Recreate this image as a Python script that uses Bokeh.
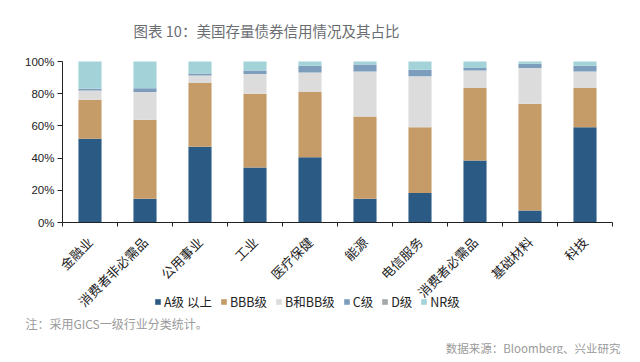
import math
from bokeh.plotting import figure
from bokeh.models import (FixedTicker, NumeralTickFormatter, Legend, LegendItem,
                          Label, ColumnDataSource, Range1d)
from bokeh.embed import file_html
from bokeh.resources import INLINE

categories = ["金融业", "消费者非必需品", "公用事业", "工业", "医疗保健",
              "能源", "电信服务", "消费者必需品", "基础材料", "科技"]
series_names = ["A级 以上", "BBB级", "B和BB级", "C级", "D级", "NR级"]
a_grade = [52.0, 14.7, 47.0, 34.2, 40.6, 14.7, 18.4, 38.5, 7.5, 59.2]
bbb_grade = [24.2, 49.1, 39.7, 45.8, 40.4, 51.1, 40.8, 45.1, 66.2, 24.4]
b_bb_grade = [5.8, 17.2, 4.6, 12.3, 12.2, 28.0, 31.7, 10.8, 22.3, 10.2]
c_grade = [1.0, 2.4, 1.2, 2.1, 4.1, 4.3, 3.9, 1.5, 2.6, 3.5]
d_grade = [0.0, 0.0, 0.0, 0.0, 0.0, 0.0, 0.0, 0.0, 0.0, 0.0]
nr_grade = [17.0, 16.6, 7.5, 5.6, 2.7, 1.9, 5.2, 4.1, 1.4, 2.7]
y_ticks = [0, 0.2, 0.4, 0.6, 0.8, 1.0]

colors = ["#2b5a85", "#c59c67", "#dcdcdc", "#7d9dbd", "#a4a8a8", "#a3d3d9"]

keys = ["a", "bbb", "bbb2", "c", "d", "nr"]
values = [a_grade, bbb_grade, b_bb_grade, c_grade, d_grade, nr_grade]
n = len(categories)
xs = [i + 0.5 for i in range(n)]
data = {"x": xs}
for k, v in zip(keys, values):
    data[k] = [val / 100.0 for val in v]
source = ColumnDataSource(data)

W, H = 632, 354
left_px, right_px = 62, 612
top_px, bottom_px = 61, 222
cat_px = (right_px - left_px) / n
unit_px = bottom_px - top_px

p = figure(width=W, height=H, output_backend="svg", toolbar_location=None,
           x_range=Range1d(-left_px / cat_px, (W - left_px) / cat_px),
           y_range=Range1d(-(H - bottom_px) / unit_px, 1 + top_px / unit_px),
           min_border=0, min_border_left=0, min_border_right=0,
           min_border_top=0, min_border_bottom=0)
p.outline_line_color = None
p.background_fill_color = "white"
p.border_fill_color = "white"
p.grid.visible = False

renderers = p.vbar_stack(keys, x="x", width=0.42, source=source, color=colors,
                         line_color=None)

# y axis
p.yaxis.fixed_location = 0
p.yaxis.bounds = (0, 1)
p.yaxis.ticker = FixedTicker(ticks=y_ticks)
p.yaxis.formatter = NumeralTickFormatter(format="0%")
p.yaxis.major_tick_in = 0
p.yaxis.major_tick_out = 5
p.yaxis.minor_tick_line_color = None
p.yaxis.axis_line_color = "#222222"
p.yaxis.major_tick_line_color = "#222222"
p.yaxis.major_label_text_font = "Liberation Sans"
p.yaxis.major_label_text_font_size = "11.5px"
p.yaxis.major_label_text_color = "#222222"
p.yaxis.major_label_standoff = 3

# x axis: labels at centres, tick marks at boundaries
p.xaxis.fixed_location = 0
p.xaxis.bounds = (0, n)
p.xaxis.ticker = FixedTicker(ticks=xs, minor_ticks=list(range(n + 1)))
p.xaxis.major_label_overrides = {x: c for x, c in zip(xs, categories)}
p.xaxis.major_tick_in = 0
p.xaxis.major_tick_out = 0
p.xaxis.minor_tick_in = 0
p.xaxis.minor_tick_out = 4
p.xaxis.minor_tick_line_color = "#222222"
p.xaxis.axis_line_color = "#222222"
p.xaxis.major_label_orientation = math.pi / 4
p.xaxis.major_label_text_font = "Noto Sans CJK SC"
p.xaxis.major_label_text_font_size = "13px"
p.xaxis.major_label_text_color = "#222222"
p.xaxis.major_label_standoff = 13

legend = Legend(items=[LegendItem(label=s, renderers=[r]) for s, r in zip(series_names, renderers)],
                orientation="horizontal", location=(154, 43),
                glyph_width=7, glyph_height=7, label_standoff=3, spacing=8,
                padding=0, margin=0, border_line_color=None,
                background_fill_alpha=0,
                label_text_font="Noto Sans CJK SC", label_text_font_size="12.5px",
                label_text_color="#222222")
p.add_layout(legend, "center")

p.add_layout(Label(x=266, y=H - 30, x_units="screen", y_units="screen",
                   text="图表 10：美国存量债券信用情况及其占比",
                   text_align="center", text_baseline="middle",
                   text_font="Noto Sans CJK SC", text_font_size="14.5px",
                   text_font_style="normal", text_color="#6a6d72"))
p.add_layout(Label(x=25, y=H - 323, x_units="screen", y_units="screen",
                   text="注：采用GICS一级行业分类统计。",
                   text_align="left", text_baseline="middle",
                   text_font="Noto Sans CJK SC", text_font_size="12px",
                   text_color="#9a9a9a"))
p.add_layout(Label(x=620, y=H - 347, x_units="screen", y_units="screen",
                   text="数据来源：Bloomberg、兴业研究",
                   text_align="right", text_baseline="middle",
                   text_font="Noto Sans CJK SC", text_font_size="11.5px",
                   text_color="#9a9a9a"))

open("out.html", "w").write(file_html(p, INLINE))
